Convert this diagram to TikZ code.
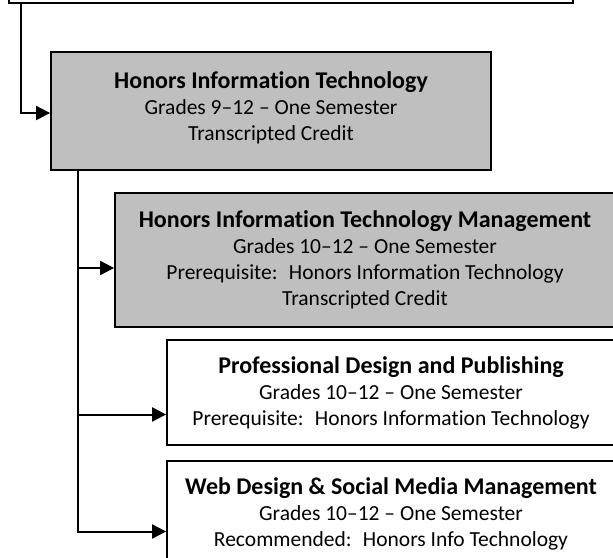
\documentclass[tikz,border=0pt]{standalone}
\usepackage{fontspec}
\setmainfont{Carlito}[Ligatures = {TeX, NoCommon}]
\usepackage{tikz}
\usetikzlibrary{arrows.meta}

\definecolor{HonorsGray}{HTML}{BFBFBF}
\newcommand{\coursetitle}[1]{{\fontsize{24}{26.5}\selectfont\bfseries #1}}
\tikzset{
    course/.style = {draw, line width = 1.8pt, align = center, inner sep = 0pt,
        font = \fontsize{21.5}{26}\selectfont},
    honors/.style = {course, fill = HonorsGray},
    link/.style = {line width = 2pt, -{Triangle[length = 14pt, width = 14pt]}},
}

\begin{document}
\begin{tikzpicture}[x = 1pt, y = -1pt]
        \useasboundingbox (0, 0) rectangle (613, 557);
        \clip (0, 0) rectangle (613, 557);
        % the course boxes
        \node[course, minimum width = 564pt, minimum height = 120pt, anchor = south west] (prev) at (8, 4) {};
        \node[honors, minimum width = 440pt, minimum height = 118pt, text depth = 10pt] (hit) at (271, 111)
            {\coursetitle{Honors Information Technology}\\ Grades 9--12 -- One Semester\\ Transcripted Credit};
        \node[honors, minimum width = 500pt, minimum height = 134pt] (itm) at (365, 260)
            {\coursetitle{Honors Information Technology Management}\\ Grades 10--12 -- One Semester\\
             Prerequisite:~ Honors Information Technology\\ Transcripted Credit};
        \node[course, minimum width = 448pt, minimum height = 105pt] (pdp) at (391, 392.5)
            {\coursetitle{Professional Design and Publishing}\\ Grades 10--12 -- One Semester\\
             Prerequisite:~ Honors Information Technology};
        \node[course, minimum width = 448pt, minimum height = 105pt] (web) at (391, 513.5)
            {\coursetitle{Web Design \& Social Media Management}\\ Grades 10--12 -- One Semester\\
             Recommended:~ Honors Info Technology};
        % connectors
        \draw[link] ([xshift = 13pt]prev.south west) |- ([yshift = -2pt]hit.west);
        \draw[link] ([xshift = 28pt]hit.south west) |- ([yshift = -8pt]itm.west);
        \draw[link] ([xshift = 28pt]hit.south west) |- ([yshift = -22pt]pdp.west);
        \draw[link] ([xshift = 28pt]hit.south west) |- ([yshift = -18pt]web.west);
    \end{tikzpicture}
\end{document}
